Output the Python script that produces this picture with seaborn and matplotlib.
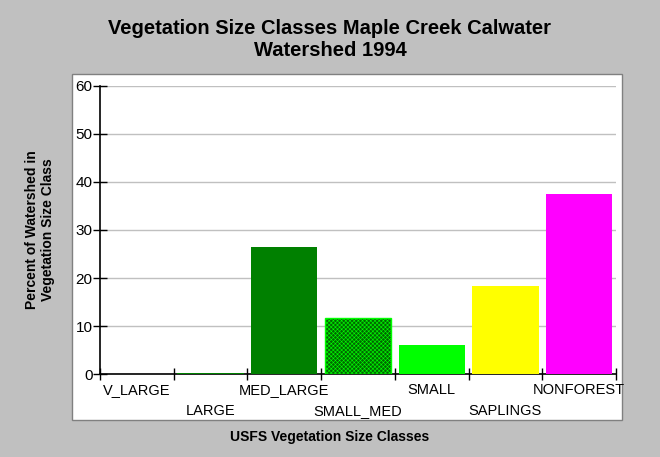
import matplotlib
matplotlib.use("Agg")
import matplotlib.pyplot as plt
import seaborn as sns
import pandas as pd
from matplotlib.patches import Rectangle

# data
categories = ["V_LARGE", "LARGE", "MED_LARGE", "SMALL_MED", "SMALL", "SAPLINGS", "NONFOREST"]
percent = [0.0, 0.25, 26.5, 11.7, 6.0, 18.3, 37.5]
bar_colors = ["#008000", "#008000", "#008000", "#006800", "#00FF00", "#FFFF00", "#FF00FF"]

df = pd.DataFrame({"cls": categories, "pct": percent})

sns.set_style("white")
plt.rcParams["font.family"] = ["Liberation Sans", "DejaVu Sans"]
plt.rcParams["text.color"] = "black"
plt.rcParams["xtick.color"] = "black"
plt.rcParams["ytick.color"] = "black"
plt.rcParams["hatch.linewidth"] = 0.4

fig = plt.figure(figsize=(6.6, 4.57), dpi=100)
fig.patch.set_facecolor("#C0C0C0")

# white panel behind the plot
W, H = 660, 457
fig.patches.append(Rectangle((72 / W, 1 - 420 / H), 550 / W, 346 / H,
                             transform=fig.transFigure, facecolor="white",
                             edgecolor="#808080", linewidth=1, zorder=-5))

ax = fig.add_axes([100 / W, 1 - 374 / H, 516 / W, 288 / H])
ax.set_facecolor("none")

sns.barplot(data=df, x="cls", y="pct", hue="cls", palette=bar_colors,
            legend=False, width=0.9, saturation=1, linewidth=0, ax=ax, zorder=3)

# checkered bar for SMALL_MED
sm = ax.patches[3]
sm.set_hatch("xxxxxxxx")
sm.set_edgecolor("#00FF00")
sm.set_linewidth(1)

ax.set_xlim(-0.5, len(categories) - 0.5)
ax.set_ylim(0, 60)
ax.set_yticks(range(0, 61, 10))
ax.yaxis.grid(True, color="#C0C0C0", linewidth=1, zorder=0)
ax.set_axisbelow(True)

for s in ["top", "right"]:
    ax.spines[s].set_visible(False)
for s in ["left", "bottom"]:
    ax.spines[s].set_color("black")
    ax.spines[s].set_linewidth(1.2)
    ax.spines[s].set_zorder(2)

# ticks at category boundaries, labels at centres in two staggered rows
ax.set_xticks([i - 0.5 for i in range(len(categories) + 1)])
ax.set_xticklabels([])
ax.tick_params(axis="x", bottom=True, direction="inout", length=8.5, width=1,
               color="black")
ax.tick_params(axis="y", left=True, direction="inout", length=10.5, width=1,
               color="black", labelsize=11, pad=0)
for i, name in enumerate(categories):
    dy = -6.5 if i % 2 == 0 else -21.5
    ax.annotate(name, xy=(i, 0), xycoords=("data", "axes fraction"),
                xytext=(0, dy), textcoords="offset points",
                ha="center", va="top", fontsize=10.5)

ax.set_xlabel("")
ax.set_ylabel("")
fig.text(330 / W, 1 - 437 / H, "USFS Vegetation Size Classes", ha="center",
         va="center", fontsize=10, fontweight="bold")
fig.text(40 / W, 1 - 230 / H, "Percent of Watershed in\nVegetation Size Class",
         ha="center", va="center", rotation=90, fontsize=10, fontweight="bold",
         linespacing=1.1)
fig.text(330 / W, 1 - 39 / H, "Vegetation Size Classes Maple Creek Calwater\nWatershed 1994",
         ha="center", va="center", fontsize=14.5, fontweight="bold", linespacing=1.2)

fig.savefig("out.png", dpi=100, facecolor=fig.get_facecolor())
